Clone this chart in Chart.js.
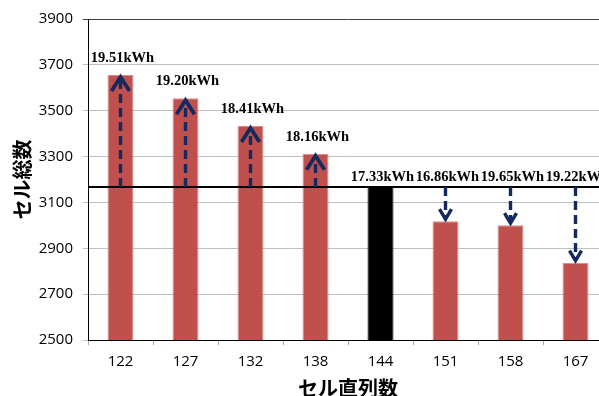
<!DOCTYPE html>
<html>
<head>
<meta charset="utf-8">
<script src="https://cdn.jsdelivr.net/npm/chart.js@4.4.1/dist/chart.umd.min.js"></script>
<style>
  html, body { margin: 0; padding: 0; background: #fff; overflow: hidden; }
  #wrap { width: 608px; height: 396px; }
</style>
</head>
<body>
<div id="wrap"><canvas id="cellChart"></canvas></div>
<script>
  const seriesCounts = ['122', '127', '132', '138', '144', '151', '158', '167'];
  const cellTotals = [3656, 3554, 3433, 3312, 3167, 3018, 3001, 2837];
  const energyKWh = [19.51, 19.20, 18.41, 18.16, 17.33, 16.86, 19.65, 19.22];
  const yTicks = [2500, 2700, 2900, 3100, 3300, 3500, 3700, 3900];
  const baseIndex = 4; // 144 cells in series is the reference design

  const barRed = '#C0504D';
  const arrowBlue = '#14295E';

  // reference line, arrows from it to each bar, and the kWh labels
  const arrowPlugin = {
    id: 'arrowPlugin',
    afterDatasetsDraw(chart) {
      const ctx = chart.ctx;
      const area = chart.chartArea;
      const x = chart.scales.x;
      const y = chart.scales.y;
      const baseY = y.getPixelForValue(cellTotals[baseIndex]);

      ctx.save();
      ctx.strokeStyle = '#000';
      ctx.lineWidth = 2;
      ctx.beginPath();
      ctx.moveTo(area.left, baseY);
      ctx.lineTo(area.right, baseY);
      ctx.stroke();

      cellTotals.forEach((v, i) => {
        if (i === baseIndex) return;
        const cx = x.getPixelForValue(i);
        const top = y.getPixelForValue(v);
        const up = top < baseY;
        const tipY = up ? top + 2 : top - 2;
        const headW = up ? 9 : 6;
        const headL = up ? 14 : 10;
        const dir = up ? 1 : -1;

        ctx.strokeStyle = arrowBlue;
        ctx.lineWidth = 3.4;
        ctx.setLineDash([9, 5]);
        ctx.beginPath();
        ctx.moveTo(cx, baseY);
        ctx.lineTo(cx, tipY + dir * 2);
        ctx.stroke();

        ctx.setLineDash([]);
        ctx.lineWidth = up ? 3.8 : 3.4;
        ctx.lineJoin = 'miter';
        ctx.beginPath();
        ctx.moveTo(cx - headW, tipY + dir * headL);
        ctx.lineTo(cx, tipY);
        ctx.lineTo(cx + headW, tipY + dir * headL);
        ctx.stroke();
      });

      ctx.fillStyle = '#000';
      ctx.font = 'bold 14.5px "Liberation Serif"';
      ctx.textAlign = 'center';
      ctx.textBaseline = 'middle';
      energyKWh.forEach((e, i) => {
        const cx = x.getPixelForValue(i);
        const top = y.getPixelForValue(cellTotals[i]);
        const ly = top < baseY - 2 ? top - 17 : baseY - 10;
        ctx.fillText(e.toFixed(2) + 'kWh', cx + 2, ly);
      });
      ctx.restore();
    }
  };

  const ctx = document.getElementById('cellChart');
  new Chart(ctx, {
    type: 'bar',
    data: {
      labels: seriesCounts,
      datasets: [{
        data: cellTotals,
        backgroundColor: cellTotals.map((v, i) => i === baseIndex ? '#000' : barRed),
        borderColor: cellTotals.map((v, i) => i === baseIndex ? '#000' : '#D98E8C'),
        borderWidth: 1,
        barPercentage: 0.4,
        categoryPercentage: 1
      }]
    },
    options: {
      responsive: true,
      maintainAspectRatio: false,
      animation: false,
      layout: { padding: { top: 19, right: 0, bottom: 0, left: 0 } },
      plugins: {
        legend: { display: false },
        tooltip: { enabled: false }
      },
      scales: {
        x: {
          afterFit(s) { s.height = 56; },
          border: { color: '#000', width: 1 },
          grid: {
            drawOnChartArea: false,
            drawTicks: true,
            tickLength: 5,
            color: '#A6A6A6',
            offset: true
          },
          ticks: {
            padding: 8,
            color: '#000',
            font: { family: '"Open Sans"', size: 15 }
          },
          title: {
            display: true,
            text: 'セル直列数',
            color: '#000',
            padding: { top: 0, bottom: 0 },
            font: { family: '"Noto Sans CJK JP"', size: 20, weight: 'bold', lineHeight: 0.8 }
          }
        },
        y: {
          min: 2500,
          max: 3900,
          afterFit(s) { s.width = 88; },
          afterBuildTicks(s) { s.ticks = yTicks.map(v => ({ value: v })); },
          border: { color: '#000', width: 1 },
          grid: {
            color: (c) => c.tick && c.tick.value === 3900 ? '#404040' : '#BFBFBF',
            tickLength: 5
          },
          ticks: {
            padding: 10,
            color: '#000',
            font: { family: '"Open Sans"', size: 15 },
            callback: (v) => String(v)
          },
          title: {
            display: true,
            text: 'セル総数',
            color: '#000',
            padding: { top: 14, bottom: 0 },
            font: { family: '"Noto Sans CJK JP"', size: 20, weight: 'bold', lineHeight: 0.8 }
          }
        }
      }
    },
    plugins: [arrowPlugin]
  });
</script>
</body>
</html>
